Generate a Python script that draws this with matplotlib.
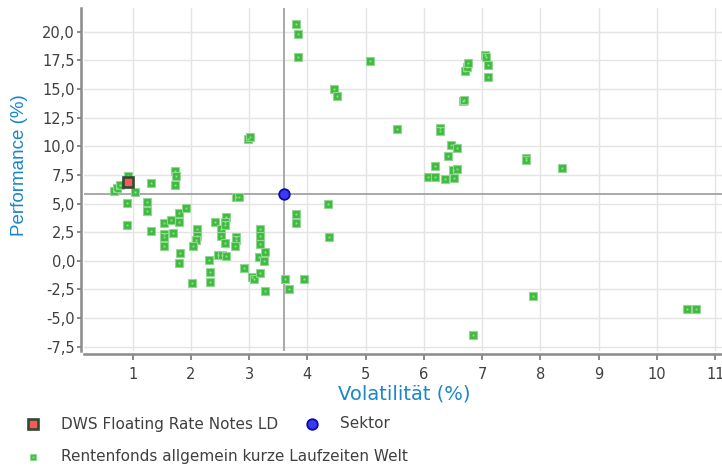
#!/usr/bin/env python
# -*- coding: utf-8 -*-

#...for the plotting.
import matplotlib
matplotlib.use('Agg')
import matplotlib.pyplot as plt
from matplotlib.lines import Line2D

plt.rcParams['font.family'] = ['DejaVu Sans']

## The fund itself.
fund_name = "DWS Floating Rate Notes LD"
fund_vol = [0.92]
fund_perf = [6.90]

## The sector average.
sector_name = "Sektor"
sector_vol = [3.59]
sector_perf = [5.83]

## The peer group funds.
peer_name = "Rentenfonds allgemein kurze Laufzeiten Welt"
peer_vol = [0.68, 0.74, 0.79, 0.925, 1.04, 1.31, 1.73, 1.74, 1.72, 0.91,
            1.25, 1.25, 0.91, 1.32, 1.53, 1.53, 1.53, 1.54, 1.66, 1.79,
            1.79, 1.69, 1.82, 1.80, 1.92, 2.11, 2.10, 2.09, 2.035, 2.02,
            2.31, 2.32, 2.32, 2.42, 2.51, 2.51, 2.46, 2.53, 2.60, 2.59,
            2.59, 2.59, 2.60, 2.77, 2.77, 2.76, 2.78, 2.83, 2.905, 3.05,
            3.08, 3.18, 3.28, 3.19, 3.19, 3.18, 3.17, 3.27, 3.26, 3.615,
            3.68, 3.94, 3.80, 3.80, 4.35, 4.365, 2.985, 3.01, 3.80, 3.83,
            3.83, 5.07, 4.456, 4.51, 5.54, 6.28, 6.275, 6.46, 6.57, 6.42,
            6.195, 6.07, 6.195, 6.355, 6.52, 6.505, 6.565, 6.675, 6.69, 6.71,
            6.74, 6.76, 7.05, 7.07, 7.10, 7.10, 7.745, 7.745, 8.37, 6.835,
            7.866, 10.52, 10.67]
peer_perf = [6.09, 6.38, 6.64, 7.40, 6.03, 6.78, 7.84, 7.40, 6.62, 5.05,
             5.17, 4.35, 3.10, 2.58, 3.33, 2.30, 2.10, 1.29, 3.56, 4.14,
             3.39, 2.46, 0.70, -0.22, 4.61, 2.75, 2.20, 1.80, 1.29, -1.94,
             0.08, -1.00, -1.89, 3.36, 2.75, 2.17, 0.53, 0.53, 3.80, 3.40,
             3.10, 1.53, 0.42, 2.05, 1.80, 1.29, 5.54, 5.54, -0.66, -1.40,
             -1.60, -1.09, -2.66, 2.78, 2.17, 1.44, 0.30, 0.80, 0.02, -1.59,
             -2.46, -1.59, 4.11, 3.27, 4.93, 2.10, 10.65, 10.85, 20.67, 19.83,
             17.82, 17.47, 15.00, 14.36, 11.48, 11.59, 11.36, 10.08, 9.85, 9.18,
             8.25, 7.29, 7.29, 7.12, 7.27, 7.93, 7.99, 13.98, 14.05, 16.60,
             16.90, 17.30, 17.95, 17.75, 17.09, 16.02, 9.00, 8.80, 8.07, -6.50,
             -3.10, -4.18, -4.24]

## Axis ticks.
x_ticks = list(range(1, 12))
y_ticks = [-7.5, -5.0, -2.5, 0.0, 2.5, 5.0, 7.5, 10.0, 12.5, 15.0, 17.5, 20.0]
y_tick_labels = [("%.1f" % v).replace(".", ",") for v in y_ticks]

# Colours.
green_face = '#41b941'
green_edge = '#93d693'
green_dot = '#80ea80'
red_face = '#f85a5a'
red_edge = '#2f4a2f'
blue_face = '#3a3af2'
blue_edge = '#0a0aa5'
label_blue = '#1b87c8'
text_grey = '#404040'
axis_grey = '#8a8a8a'

## The figure.
W, H = 722.0, 466.0
fig = plt.figure(figsize=(W / 100, H / 100), dpi=100, facecolor='w')
ax = fig.add_axes([84 / W, 115 / H, 638 / W, 343 / H])

ax.set_xlim(0.165, 11.116)
ax.set_ylim(-7.87, 22.07)

# Grid behind everything.
ax.set_axisbelow(True)
ax.set_xticks(x_ticks)
ax.set_yticks(y_ticks)
ax.set_yticklabels(y_tick_labels)
ax.grid(True, color='#e4e4e4', linewidth=1.0)

# Spines: only left and bottom, pushed out a little.
for side in ['top', 'right']:
    ax.spines[side].set_visible(False)
for side in ['left', 'bottom']:
    ax.spines[side].set_position(('outward', 2.5))
    ax.spines[side].set_color(axis_grey)
    ax.spines[side].set_linewidth(1.8)

ax.tick_params(axis='y', direction='out', length=3, width=1.4, color=axis_grey,
               labelsize=10.5, labelcolor=text_grey, pad=1)
ax.tick_params(axis='x', direction='out', length=4, width=1.4, color=axis_grey,
               labelsize=10.5, labelcolor=text_grey, pad=5)

# Sector cross-hair.
ax.axvline(sector_vol[0], color='#a3a3a3', linewidth=1.3, zorder=2)
ax.axhline(sector_perf[0], color='#a3a3a3', linewidth=1.3, zorder=2)

# Peer group.
ax.plot(peer_vol, peer_perf, linestyle='none', marker='s', markersize=5.2,
        markerfacecolor=green_face, markeredgecolor=green_edge,
        markeredgewidth=0.8, zorder=3)
ax.plot(peer_vol, peer_perf, linestyle='none', marker='s', markersize=1.4,
        markerfacecolor=green_dot, markeredgewidth=0, zorder=3)

# Fund and sector.
ax.plot(fund_vol, fund_perf, linestyle='none', marker='s', markersize=6.6,
        markerfacecolor=red_face, markeredgecolor=red_edge,
        markeredgewidth=1.9, zorder=5)
ax.plot(sector_vol, sector_perf, linestyle='none', marker='o', markersize=7.6,
        markerfacecolor=blue_face, markeredgecolor=blue_edge,
        markeredgewidth=1.3, zorder=5)

# Axis titles.
fig.text(404 / W, 1 - 394 / H, u"Volatilität (%)", color=label_blue,
         fontsize=14, ha='center', va='center')
fig.text(20 / W, 1 - 165 / H, "Performance (%)", color=label_blue,
         fontsize=13.5, ha='center', va='center', rotation=90,
         family=['Liberation Sans', 'DejaVu Sans'])

# Legend, laid out by hand.
def legend_item(x_marker, x_text, y, label, **style):
    fig.add_artist(Line2D([x_marker / W], [1 - y / H], transform=fig.transFigure,
                          linestyle='none', **style))
    fig.text(x_text / W, 1 - y / H, label, color=text_grey, fontsize=11,
             ha='left', va='center')

legend_item(33, 61, 424, fund_name, marker='s', markersize=6.6,
            markerfacecolor=red_face, markeredgecolor=red_edge, markeredgewidth=1.9)
legend_item(312, 340, 424, sector_name, marker='o', markersize=7.6,
            markerfacecolor=blue_face, markeredgecolor=blue_edge, markeredgewidth=1.3)
legend_item(33, 61, 457, peer_name, marker='s', markersize=4.4,
            markerfacecolor=green_face, markeredgecolor=green_edge, markeredgewidth=0.8)
fig.add_artist(Line2D([33 / W], [1 - 457 / H], transform=fig.transFigure,
                      linestyle='none', marker='s', markersize=1.4,
                      markerfacecolor=green_dot, markeredgewidth=0))

fig.savefig('out.png', dpi=100)
